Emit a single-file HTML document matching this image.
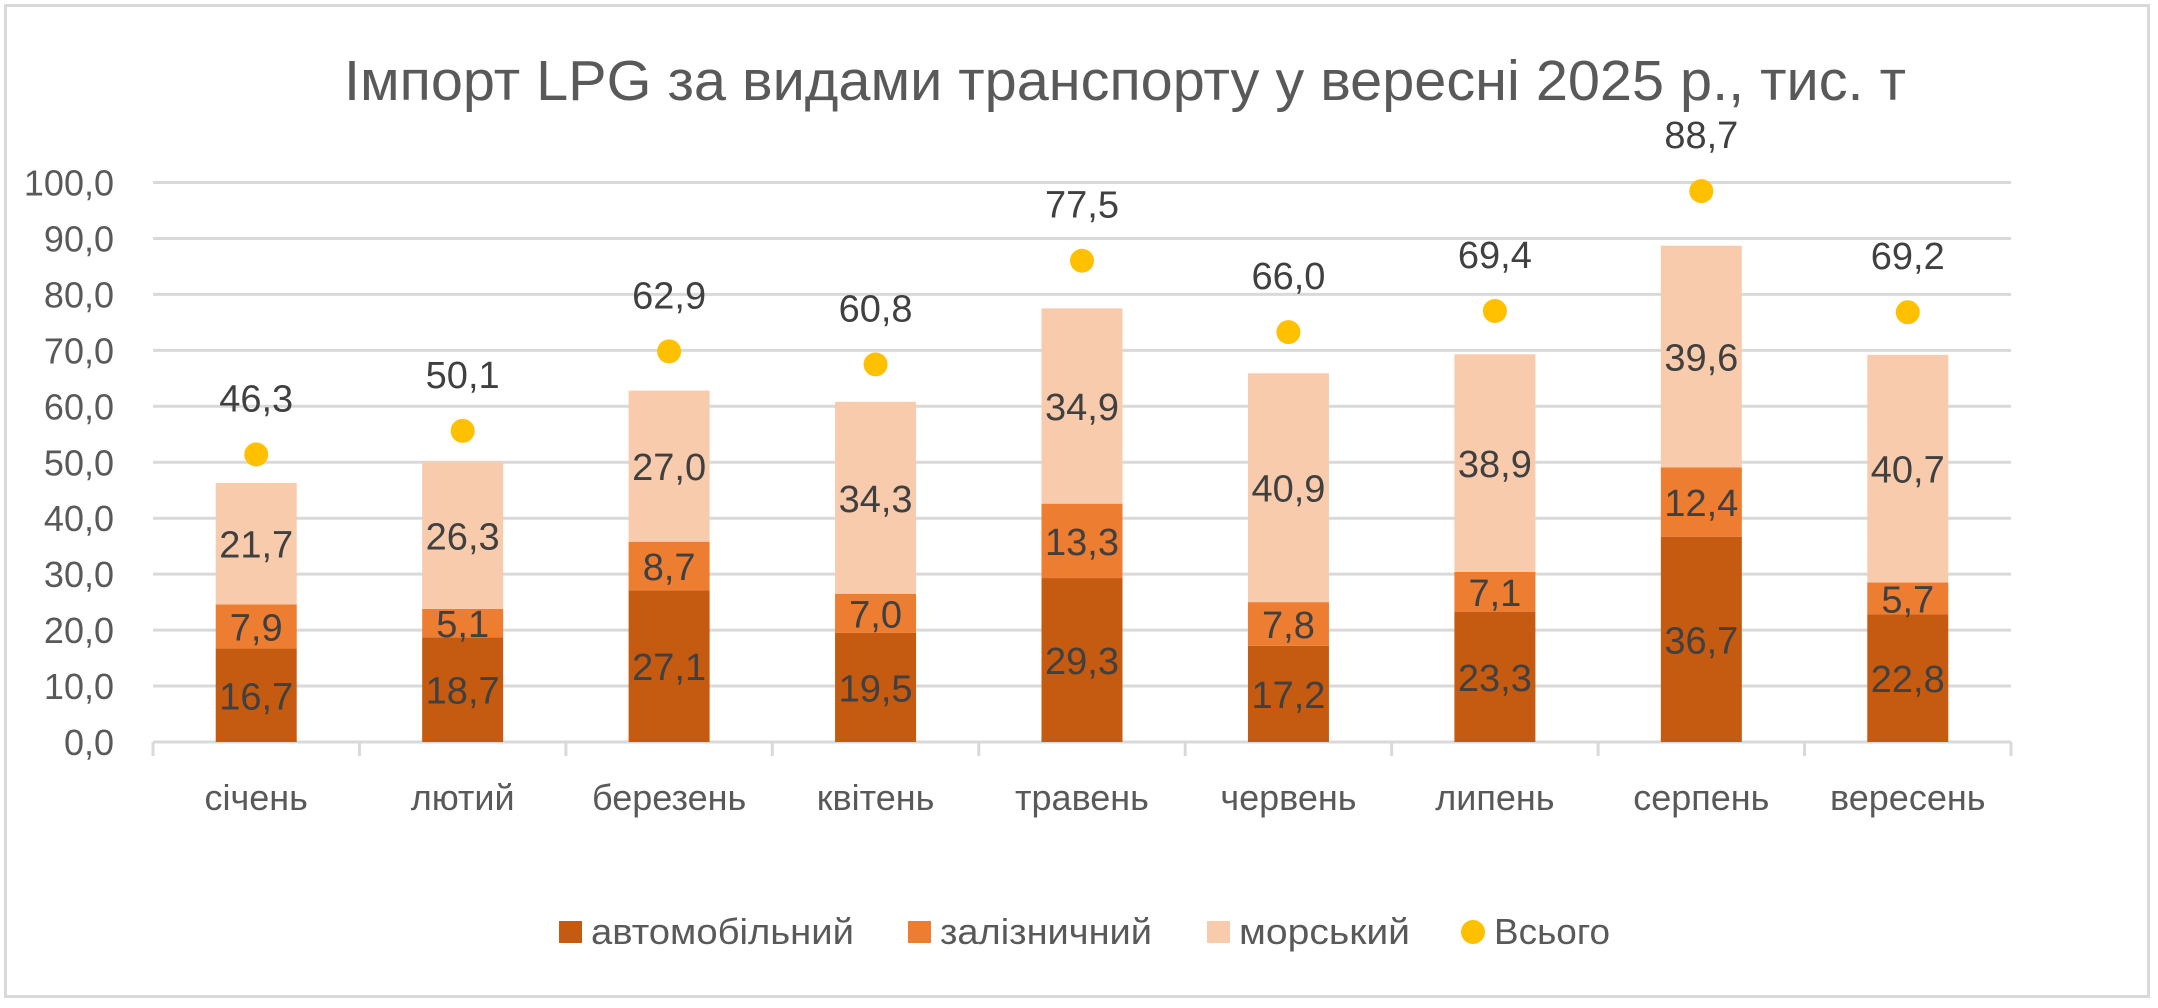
<!DOCTYPE html>
<html><head><meta charset="utf-8"><style>
html,body{margin:0;padding:0;background:#fff;}
svg{display:block;font-family:"Liberation Sans","DejaVu Sans",sans-serif;}
</style></head><body>
<svg width="2158" height="1008" viewBox="0 0 2158 1008" xmlns="http://www.w3.org/2000/svg">
<rect x="5.5" y="5.5" width="2143" height="991" fill="#fff" stroke="#d9d9d9" stroke-width="3"/>
<text x="1125" y="100" text-anchor="middle" font-size="57" fill="#595959" textLength="1562" lengthAdjust="spacingAndGlyphs">Імпорт LPG за видами транспорту у вересні 2025 р., тис. т</text>
<g id="grid" stroke="#d9d9d9" stroke-width="3"></g>
<g id="ticks" font-size="36" fill="#595959" text-anchor="end"></g>
<g id="bars"></g>
<g id="labels" font-size="38" fill="#404040" text-anchor="middle"></g>
<g id="cats" font-size="36" fill="#595959" text-anchor="middle"></g>
<g font-size="36" fill="#595959">
<rect x="559" y="921" width="23" height="22" fill="#C55A11"/>
<text x="591" y="944" textLength="263" lengthAdjust="spacingAndGlyphs">автомобільний</text>
<rect x="908" y="921" width="23" height="22" fill="#ED7D31"/>
<text x="940" y="944" textLength="212" lengthAdjust="spacingAndGlyphs">залізничний</text>
<rect x="1207" y="921" width="23" height="22" fill="#F8CBAD"/>
<text x="1239" y="944" textLength="171" lengthAdjust="spacingAndGlyphs">морський</text>
<circle cx="1473" cy="932" r="12" fill="#FFC000"/>
<text x="1494" y="944" textLength="116" lengthAdjust="spacingAndGlyphs">Всього</text>
</g>
</svg>
<script>
const NS="http://www.w3.org/2000/svg";
const y0=742,k=5.595,L=153,R=2011,cw=(R-L)/9,bw=81;
function el(p,t,a,txt){const e=document.createElementNS(NS,t);for(const i in a)e.setAttribute(i,a[i]);if(txt!=null)e.textContent=txt;document.getElementById(p).appendChild(e);return e;}
const f=v=>v.toFixed(1).replace('.',',');
for(let v=0;v<=100;v+=10){const y=y0-v*k;el('grid','line',{x1:L,x2:R,y1:y,y2:y});el('ticks','text',{x:114,y:y+13},f(v));}
for(let i=0;i<=9;i++){const x=L+i*cw;el('grid','line',{x1:x,x2:x,y1:y0,y2:y0+14});}
const cats=["січень","лютий","березень","квітень","травень","червень","липень","серпень","вересень"];
const a=[16.7,18.7,27.1,19.5,29.3,17.2,23.3,36.7,22.8];
const b=[7.9,5.1,8.7,7.0,13.3,7.8,7.1,12.4,5.7];
const c=[21.7,26.3,27.0,34.3,34.9,40.9,38.9,39.6,40.7];
const t=[46.3,50.1,62.9,60.8,77.5,66.0,69.4,88.7,69.2];
const cols=["#C55A11","#ED7D31","#F8CBAD"];
cats.forEach((n,i)=>{
 const cx=L+cw*(i+0.5);let base=0;
 [a[i],b[i],c[i]].forEach((v,j)=>{
  const yt=y0-(base+v)*k,h=v*k;
  el('bars','rect',{x:cx-bw/2,y:yt,width:bw,height:h,fill:cols[j]});
  el('labels','text',{x:cx,y:yt+h/2+14},f(v));
  base+=v;
 });
 const dy=y0-t[i]*1.11*k;
 el('bars','circle',{cx:cx,cy:dy,r:12,fill:"#FFC000"});
 el('labels','text',{x:cx,y:dy-57+14},f(t[i]));
 el('cats','text',{x:cx,y:810},n);
});
</script>
</body></html>
